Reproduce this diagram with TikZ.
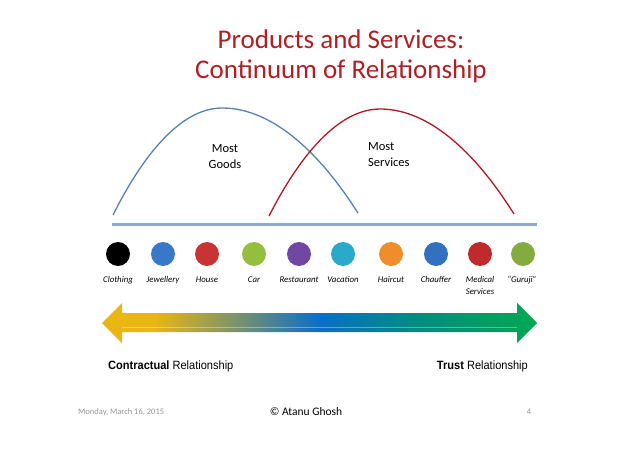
\documentclass[tikz,border=0pt]{standalone}
\usepackage{fontspec}
\setmainfont{Carlito}
\newfontfamily\relfont[FakeStretch=0.92]{Liberation Sans}
\usetikzlibrary{positioning}

\definecolor{titlered}{RGB}{176,30,36}
\definecolor{goodsblue}{RGB}{84,130,180}
\definecolor{servred}{RGB}{176,24,36}
\definecolor{baseblue}{RGB}{140,170,205}
\definecolor{footgrey}{RGB}{150,150,150}
\definecolor{relyellow}{RGB}{234,182,18}
\definecolor{relblue}{RGB}{10,110,200}
\definecolor{relteal}{RGB}{0,140,130}
\definecolor{relgreen}{RGB}{0,168,80}

% colours sit between 25bp and 75bp: that part is fitted to the path
\pgfdeclarehorizontalshading{relshade}{100bp}{color(0bp)=(relyellow); color(31bp)=(relyellow); color(50bp)=(relblue); color(61bp)=(relteal); color(75bp)=(relgreen); color(100bp)=(relgreen)}

\begin{document}
\begin{tikzpicture}[x=1pt, y=-1pt, line join=bevel]
	\useasboundingbox (0,0) rectangle (638,452);

                \pgfmathsetmacro{\rowy}{254}
                \pgfmathsetmacro{\laby}{274}

                \tikzset{
                  titletext/.style = {font=\fontsize{27}{32}\selectfont, text=titlered, anchor=base, inner sep=0pt},
                  humptext/.style  = {font=\fontsize{12.5}{16}\selectfont, inner sep=0pt},
                  hump/.style      = {line width=1.3pt},
                  dot/.style       = {circle, minimum size=24pt, inner sep=0pt},
                  itemlabel/.style = {font=\fontsize{8.8}{12}\selectfont\itshape, align=center, anchor=north, inner sep=0pt},
                  reltext/.style   = {font=\relfont\fontsize{12}{14}\selectfont, anchor=base, inner sep=0pt},
                  foot/.style      = {font=\fontsize{8.5}{10}\selectfont, text=footgrey, anchor=base, inner sep=0pt}
                }

                % title
                \node[titletext] (title1) at (341,49) {Products and Services:};
                \node[titletext] (title2) at (341,79) {Continuum of Relationship};

                % the two humps
                \draw[hump, goodsblue] (113,215) parabola bend (222,108) (358,213);
                \draw[hump, servred]   (269,216) parabola bend (380,109) (514,214);
                \node[humptext, align=center, anchor=base] (goods) at (225,168) {Most\\Goods};
                \node[humptext, align=left, anchor=base west] (services) at (368,166) {Most\\Services};

                % base line
                \draw[line width=3pt, baseblue] (112,224) -- (537,224);

                % items
                \foreach \name/\x/\fillcol/\txt in {
                    clothing/118/{black}/{Clothing},
                    jewellery/163/{rgb,255:red,55;green,120;blue,200}/{Jewellery},
                    house/207/{rgb,255:red,200;green,52;blue,52}/{House},
                    car/254/{rgb,255:red,148;green,190;blue,62}/{Car},
                    restaurant/299/{rgb,255:red,112;green,72;blue,162}/{Restaurant},
                    vacation/343/{rgb,255:red,42;green,170;blue,200}/{Vacation},
                    haircut/391/{rgb,255:red,240;green,140;blue,42}/{Haircut},
                    chauffer/436/{rgb,255:red,50;green,112;blue,192}/{Chauffer},
                    medical/480/{rgb,255:red,192;green,42;blue,42}/{Medical\\Services},
                    guruji/523/{rgb,255:red,130;green,172;blue,62}/{``Guruji''}
                }{
                    \node[dot, fill=\fillcol] (\name) at (\x,\rowy) {};
                    \node[itemlabel] (\name-lab) at (\x,\laby) {\strut\txt};
                }

                % relationship arrow
                \shade[shading=relshade]
                (102,323) -- (122,303) -- (122,313) -- (517,313) --
                (517,303) -- (537,323) -- (517,343) -- (517,332) --
                (122,332) -- (122,343) -- cycle;
                \draw[white, opacity=0.35, line width=0.6pt] (122,327) -- (517,327);

                \node[reltext, anchor=base west] (contract) at (108,369) {\textbf{Contractual} Relationship};
                \node[reltext, anchor=base east] (trust) at (528,369) {\textbf{Trust} Relationship};

                % footer
                \node[foot, anchor=base west] (date) at (78,414) {Monday, March 16, 2015};
                \node[foot, font=\fontsize{11.5}{13}\selectfont, text=black] (author) at (306,415) {© Atanu Ghosh};
                \node[foot] (page) at (529,414) {4};
            \end{tikzpicture}
\end{document}
